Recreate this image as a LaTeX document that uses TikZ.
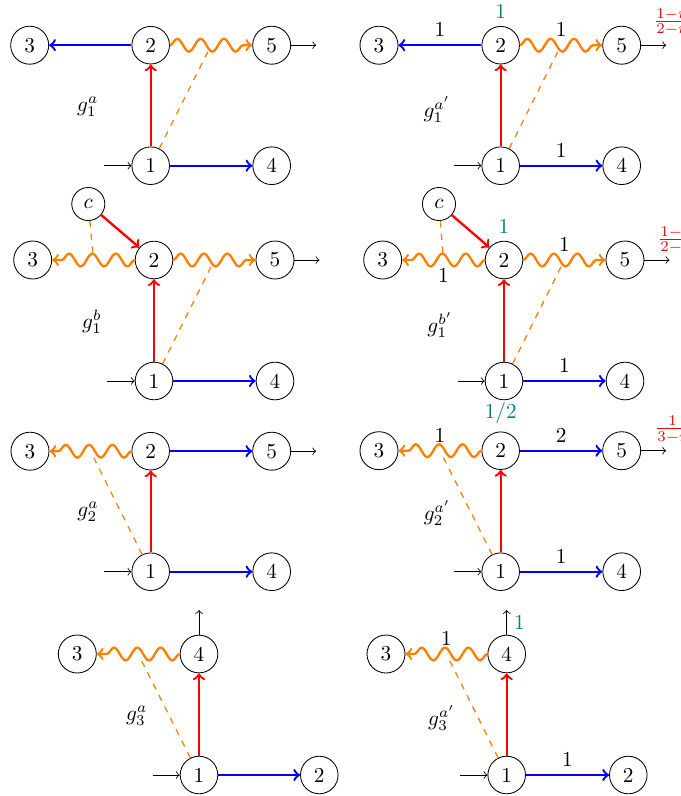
\documentclass[tikz,border=0pt]{standalone}
\usetikzlibrary{decorations.pathmorphing}
\begin{document}
\begin{tikzpicture}[x=0.4703pt, y=-0.4703pt,
  v/.style={circle, draw, inner sep=0.3333em},
  edgeblue/.style={blue, line width=1.1pt, ->},
  edgered/.style={red, line width=1.1pt, ->},
  wavy/.style={orange, line width=1.1pt, ->, decorate,
    decoration={snake, amplitude=3pt, segment length=11pt, post length=3pt}},
  guide/.style={orange, semithick, dashed},
  feed/.style={->},
  midmark/.style={midway, inner sep=2.6pt},
  wlab/.style={midway, above, black},
  wlabb/.style={midway, below, black},
  vlab/.style={teal},
  frac/.style={red, anchor=west, inner sep=0pt}]
\useasboundingbox (0,0) rectangle (681,796);

% ---------- g_1^a ----------
\begin{scope}[shift={(150.7,165.7)}]
  \node[v] (A1) at (0,0) {1};
  \node[v] (A2) at (0,-120.5) {2};
  \node[v] (A3) at (-121,-120.5) {3};
  \node[v] (A5) at (121,-120.5) {5};
  \node[v] (A4) at (121,0) {4};
  \coordinate (Ain) at (-46.5,0);
  \coordinate (Aout) at (165.5,-120.5);
  \node (Ag) at (-63,-59) {$g_1^a$};
\end{scope}
\draw[edgeblue] (A2) -- (A3);
\draw[wavy] (A2) -- (A5) node[midmark] (Am) {};
\draw[edgered] (A1) -- (A2);
\draw[edgeblue] (A1) -- (A4);
\draw[guide] (A1) -- (Am);
\draw[feed] (Ain) -- (A1);
\draw[feed] (A5) -- (Aout);

% ---------- g_1^{a'} ----------
\begin{scope}[shift={(500.7,165.7)}]
  \node[v] (P1) at (0,0) {1};
  \node[v, label={[vlab]above:1}] (P2) at (0,-120.5) {2};
  \node[v] (P3) at (-121.7,-120.5) {3};
  \node[v] (P5) at (121,-120.5) {5};
  \node[v] (P4) at (121,0) {4};
  \coordinate (Pin) at (-46.5,0);
  \coordinate (Pout) at (165.5,-120.5);
  \node (Pg) at (-63.7,-56) {$g_1^{a'}$};
\end{scope}
\draw[edgeblue] (P2) -- (P3) node[wlab] {1};
\draw[wavy] (P2) -- (P5) node[wlab] {1} node[midmark] (Pm) {};
\draw[edgered] (P1) -- (P2);
\draw[edgeblue] (P1) -- (P4) node[wlab] {1};
\draw[guide] (P1) -- (Pm);
\draw[feed] (Pin) -- (P1);
\draw[feed] (P5) -- (Pout);
\node[frac] (Pr) at ([shift={(-12.7,-23)}]Pout) {$\frac{1-r}{2-r}$};

% ---------- g_1^b ----------
\begin{scope}[shift={(154,381)}]
  \node[v] (B1) at (0,0) {1};
  \node[v] (B2) at (0,-121) {2};
  \node[v] (B3) at (-121.3,-121) {3};
  \node[v] (B5) at (121,-121) {5};
  \node[v] (B4) at (121,0) {4};
  \node[v] (Bc) at (-65.7,-177) {$c$};
  \coordinate (Bin) at (-46.5,0);
  \coordinate (Bout) at (165.5,-121);
  \node (Bg) at (-62,-59.3) {$g_1^b$};
\end{scope}
\draw[edgered] (Bc) -- (B2);
\draw[wavy] (B2) -- (B3) node[midmark] (Bm1) {};
\draw[wavy] (B2) -- (B5) node[midmark] (Bm2) {};
\draw[edgered] (B1) -- (B2);
\draw[edgeblue] (B1) -- (B4);
\draw[guide] (Bc) -- (Bm1);
\draw[guide] (B1) -- (Bm2);
\draw[feed] (Bin) -- (B1);
\draw[feed] (B5) -- (Bout);

% ---------- g_1^{b'} ----------
\begin{scope}[shift={(504,381)}]
  \node[v] (Q1) at (0,0) {1};
  \node[v, label={[vlab]above:1}] (Q2) at (0,-121) {2};
  \node[v] (Q3) at (-121.3,-121) {3};
  \node[v] (Q5) at (121,-121) {5};
  \node[v] (Q4) at (121,0) {4};
  \node[v] (Qc) at (-65,-177) {$c$};
  \coordinate (Qin) at (-46.5,0);
  \coordinate (Qout) at (165.5,-121);
  \node (Qg) at (-64,-56) {$g_1^{b'}$};
\end{scope}
\draw[edgered] (Qc) -- (Q2);
\draw[wavy] (Q2) -- (Q3) node[wlabb] {1} node[midmark] (Qm1) {};
\draw[wavy] (Q2) -- (Q5) node[wlab] {1} node[midmark] (Qm2) {};
\draw[edgered] (Q1) -- (Q2);
\draw[edgeblue] (Q1) -- (Q4) node[wlab] {1};
\draw[guide] (Qc) -- (Qm1);
\draw[guide] (Q1) -- (Qm2);
\draw[feed] (Qin) -- (Q1);
\draw[feed] (Q5) -- (Qout);
\node[frac] (Qr) at ([shift={(-12,-20)}]Qout) {$\frac{1-r}{2-r}$};

% ---------- g_2^a ----------
\begin{scope}[shift={(150.7,571.7)}]
  \node[v] (C1) at (0,0) {1};
  \node[v] (C2) at (0,-120.5) {2};
  \node[v] (C3) at (-120.7,-120.5) {3};
  \node[v] (C5) at (121,-120.5) {5};
  \node[v] (C4) at (121,0) {4};
  \coordinate (Cin) at (-46.5,0);
  \coordinate (Cout) at (165.5,-120.5);
  \node (Cg) at (-62.7,-60) {$g_2^a$};
\end{scope}
\draw[wavy] (C2) -- (C3) node[midmark] (Cm) {};
\draw[edgeblue] (C2) -- (C5);
\draw[edgered] (C1) -- (C2);
\draw[edgeblue] (C1) -- (C4);
\draw[guide] (C1) -- (Cm);
\draw[feed] (Cin) -- (C1);
\draw[feed] (C5) -- (Cout);

% ---------- g_2^{a'} ----------
\begin{scope}[shift={(500.7,571.7)}]
  \node[v] (R1) at (0,0) {1};
  \node[v, label={[vlab]above:$1/2$}] (R2) at (0,-121) {2};
  \node[v] (R3) at (-121.7,-121) {3};
  \node[v] (R5) at (121,-121) {5};
  \node[v] (R4) at (121,0) {4};
  \coordinate (Rin) at (-46.5,0);
  \coordinate (Rout) at (165.5,-121);
  \node (Rg) at (-63.4,-58.7) {$g_2^{a'}$};
\end{scope}
\draw[wavy] (R2) -- (R3) node[wlab] {1} node[midmark] (Rm) {};
\draw[edgeblue] (R2) -- (R5) node[wlab] {2};
\draw[edgered] (R1) -- (R2);
\draw[edgeblue] (R1) -- (R4) node[wlab] {1};
\draw[guide] (R1) -- (Rm);
\draw[feed] (Rin) -- (R1);
\draw[feed] (R5) -- (Rout);
\node[frac] (Rr) at ([shift={(-11.7,-21)}]Rout) {$\frac{1}{3-r}$};

% ---------- g_3^a ----------
\begin{scope}[shift={(199,775)}]
  \node[v] (D1) at (0,0) {1};
  \node[v] (D4) at (0,-121) {4};
  \node[v] (D3) at (-121.7,-121) {3};
  \node[v] (D2) at (120.3,0) {2};
  \coordinate (Din) at (-46.5,0);
  \coordinate (Dout) at (0,-165);
  \node (Dg) at (-62.3,-59) {$g_3^a$};
\end{scope}
\draw[wavy] (D4) -- (D3) node[midmark] (Dm) {};
\draw[edgered] (D1) -- (D4);
\draw[edgeblue] (D1) -- (D2);
\draw[guide] (D1) -- (Dm);
\draw[feed] (Din) -- (D1);
\draw[feed] (D4) -- (Dout);

% ---------- g_3^{a'} ----------
\begin{scope}[shift={(506.7,775)}]
  \node[v] (S1) at (0,0) {1};
  \node[v] (S4) at (0,-121) {4};
  \node[v] (S3) at (-120.7,-121) {3};
  \node[v] (S2) at (121.6,0) {2};
  \coordinate (Sin) at (-46.5,0);
  \coordinate (Sout) at (0,-165);
  \node (Sg) at (-65,-56.7) {$g_3^{a'}$};
\end{scope}
\draw[wavy] (S4) -- (S3) node[wlab] {1} node[midmark] (Sm) {};
\draw[edgered] (S1) -- (S4);
\draw[edgeblue] (S1) -- (S2) node[wlab] {1};
\draw[guide] (S1) -- (Sm);
\draw[feed] (Sin) -- (S1);
\draw[feed] (S4) -- (Sout) node[midway, right, vlab] {1};
\end{tikzpicture}
\end{document}
